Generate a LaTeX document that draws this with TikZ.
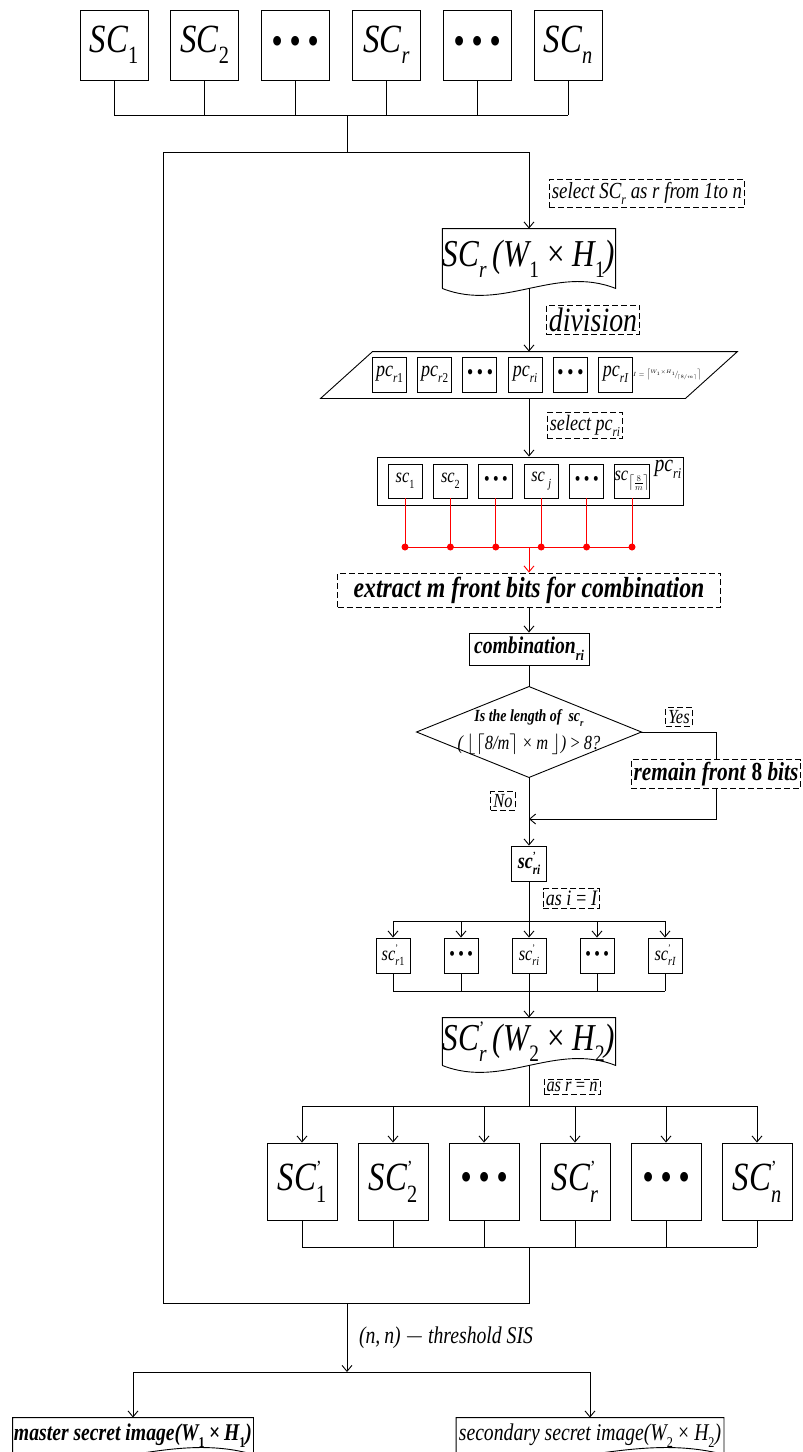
\documentclass[tikz,border=0pt]{standalone}
\usepackage{amsmath}
\usepackage{fontspec}
\setmainfont{Liberation Serif}[FakeStretch=0.82]
\usetikzlibrary{arrows.meta,calc}
\newcommand\fsz[1]{\fontsize{#1}{#1}\selectfont}
\newcommand\sbs[1]{\raisebox{-.28em}{\scalebox{.62}{#1}}}
\newcommand\sbu[1]{\sbs{\upshape #1}}
\newcommand\sbp[1]{\rlap{\raisebox{.42em}{\scalebox{.5}{\upshape '}}}\sbs{#1}}
\newcommand\tdots{\textbullet\,\textbullet\,\textbullet}
\newcommand\docframe[1]{\draw (#1.south west) -- (#1.north west) -- (#1.north east) -- (#1.south east)
  .. controls ($(#1.south east)!.35!(#1.south west)+(0,-24)$) and ($(#1.south east)!.65!(#1.south west)+(0,24)$) .. (#1.south west);}
\tikzset{
  cell/.style={draw,fill=white,inner sep=0pt},
  tag/.style={draw,fill=white,dash pattern=on 6pt off 3pt,inner sep=2.5pt},
  arr/.style={-{Straight Barb[length=6pt,width=10pt]}},
  docbox/.style={inner sep=0pt},
}

\begin{document}
\begin{tikzpicture}[x=1pt,y=-1pt,line width=.9pt]
    \useasboundingbox (0,0) rectangle (803,1452);
    \clip (0,0) rectangle (803,1452);
    \foreach \lbl [count=\i] in {SC\sbu{1},SC\sbu{2},\tdots,SC\sbs{r},\tdots,SC\sbs{n}}
      \node[cell,minimum width=68,minimum height=70,font=\fsz{40}\itshape] (t\i) at ({114+90.8*(\i-1)},45) {\lbl};
    \node[tag,font=\fsz{23}\itshape] (selsc) at (647,193.5) {select SC\sbs{r} as r from 1to n};
    \node[docbox,minimum width=165,minimum height=59,font=\fsz{38}\itshape] (docA) at (529,258.5) {SC\sbs{r}\,(W\sbu{1}\,×\,H\sbu{1})};
    \docframe{docA}
    \node[tag,font=\fsz{34}\itshape] (divl) at (593,319.5) {division};
    \node[minimum width=364,minimum height=46,inner sep=0pt] (par) at (529,375) {};
    \draw ([xshift=26]par.north west) -- ([xshift=26]par.north east) -- ([xshift=-26]par.south east) -- ([xshift=-26]par.south west) -- cycle;
    \foreach \lbl [count=\i] in {pc\sbs{r\upshape 1},pc\sbs{r\upshape 2},\tdots,pc\sbs{ri},\tdots,pc\sbs{rI}}
      \node[cell,minimum width=34,minimum height=35,font=\fsz{22}\itshape] (p\i) at ({389.5+45.2*(\i-1)},374.5) {\lbl};
    \node[font=\fsz{6}] (fml) at (667,375) {$I=\left\lceil{}^{W_1\times H_1}\!\big/\!{}_{\lceil 8/m\rceil}\right\rceil$};
    \node[tag,font=\fsz{22}\itshape] (selpc) at (585,425.5) {select pc\sbs{ri}};
    \node[cell,minimum width=306,minimum height=48] (pcbox) at (530,481) {};
    \foreach \lbl [count=\i] in {sc\sbu{1},sc\sbu{2},\tdots,sc\,\sbs{j},\tdots,sc\sbs{$\left\lceil\frac{8}{m}\right\rceil$}}
      \node[cell,minimum width=34,minimum height=34,font=\fsz{20}\itshape] (s\i) at ({405+45.4*(\i-1)},481) {\lbl};
    \node[font=\fsz{24}\itshape] (pcl) at (668,469) {pc\sbs{ri}};
    \node[tag,minimum width=383,minimum height=34,font=\fsz{29}\bfseries\itshape] (extr) at (529,590) {extract m front bits for combination};
    \node[cell,minimum width=120,minimum height=32,font=\fsz{24}\bfseries\itshape] (comb) at (529,649) {combination\sbs{ri}};
    \node[minimum width=224,minimum height=90,inner sep=0pt,align=center] (cond) at (529,732)
      {{\fsz{17}\bfseries\itshape Is the length of \ sc\sbs{r}}\\[6pt]{\fsz{20}\itshape (\,$\lfloor\lceil$8/m$\rceil$\,×\,m\,$\rfloor$)\,>\,8?}};
    \draw (cond.north) -- (cond.east) -- (cond.south) -- (cond.west) -- cycle;
    \node[tag,font=\fsz{20}\itshape] (yes) at (679,717) {Yes};
    \node[tag,font=\fsz{20}\itshape] (no) at (503,801) {No};
    \node[tag,font=\fsz{26}\bfseries\itshape] (remain) at (716,774) {remain front \textup{8} bits};
    \node[cell,minimum width=35,minimum height=35,font=\fsz{22}\bfseries\itshape] (scp) at (529,863.5) {sc\sbp{ri}};
    \node[tag,font=\fsz{22}\itshape] (asi) at (571.5,898.5) {as i\,=\,I};
    \foreach \lbl [count=\i] in {sc\sbp{r\upshape 1},\tdots,sc\sbp{ri},\tdots,sc\sbp{rI}}
      \node[cell,minimum width=34,minimum height=35,font=\fsz{20}\itshape] (m\i) at ({393+68*(\i-1)},955.5) {\lbl};
    \node[docbox,minimum width=166,minimum height=47,font=\fsz{38}\itshape] (docB) at (529,1041.5) {SC\sbp{r}\,(W\sbu{2}\,×\,H\sbu{2})};
    \docframe{docB}
    \node[tag,font=\fsz{20}\itshape] (asr) at (572,1087) {as r\,=\,n};
    \foreach \lbl [count=\i] in {SC\sbp{\upshape 1},SC\sbp{\upshape 2},\tdots,SC\sbp{r},\tdots,SC\sbp{n}}
      \node[cell,minimum width=70,minimum height=77,font=\fsz{40}\itshape] (b\i) at ({302+91*(\i-1)},1181.5) {\lbl};
    \node[font=\fsz{24}\itshape] (sisl) at (446,1338) {(n,\,n)\,$-$\,threshold SIS};
    \node[docbox,minimum width=240,minimum height=36,font=\fsz{24}\bfseries\itshape] (mdoc) at (133,1436) {master secret image(W\sbu{1}\,×\,H\sbu{1})};
    \docframe{mdoc}
    \node[docbox,minimum width=267,minimum height=36,font=\fsz{24}\itshape] (sdoc) at (590,1436) {secondary secret image(W\sbu{2}\,×\,H\sbu{2})};
    \docframe{sdoc}

    \coordinate (topbus) at (347,115);
    \coordinate (lpnw) at (163,152);
    \coordinate (lpne) at (529,152);
    \coordinate (lpsw) at (163,1303);
    \coordinate (lpse) at (529,1303);
    \coordinate (redbus) at (529,547);
    \coordinate (nojoin) at (529,819);
    \coordinate (midbus) at (529,921);
    \coordinate (midbus2) at (529,991);
    \coordinate (botbus) at (529,1106);
    \coordinate (botbus2) at (529,1247);
    \coordinate (sisbus) at (347,1372);

    \foreach \i in {1,...,6} \draw (t\i.south) -- (t\i.south |- topbus);
    \draw (t1.south |- topbus) -- (t6.south |- topbus);
    \draw (topbus) -- (topbus |- lpnw);
    \draw (botbus2) -- (lpse) -- (lpsw) -- (lpnw) -- (lpne);
    \draw[arr] (lpne) -- (docA.north);
    \draw[arr] (docA.south) -- (par.north);
    \draw[arr] (par.south) -- (pcbox.north -| par.south);
    \foreach \i in {1,...,6} {
      \draw[red] (s\i.south) -- (s\i.south |- redbus);
      \fill[red] (s\i.south |- redbus) circle (3.5);
    }
    \draw[red] (s1.south |- redbus) -- (s6.south |- redbus);
    \draw[red,arr] (redbus) -- (extr.north);
    \draw[arr] (extr.south) -- (comb.north);
    \draw (comb.south) -- (cond.north);
    \draw (cond.east) -| (remain.north);
    \draw[arr] (remain.south) |- (nojoin);
    \draw[arr] (cond.south) -- (scp.north);
    \draw (scp.south) -- (midbus);
    \draw (m1.north |- midbus) -- (m5.north |- midbus);
    \foreach \i in {1,...,5} {
      \draw[arr] (m\i.north |- midbus) -- (m\i.north);
      \draw (m\i.south) -- (m\i.south |- midbus2);
    }
    \draw (m1.south |- midbus2) -- (m5.south |- midbus2);
    \draw[arr] (midbus2) -- (docB.north);
    \draw (docB.south) -- (botbus);
    \draw (b1.north |- botbus) -- (b6.north |- botbus);
    \foreach \i in {1,...,6} {
      \draw[arr] (b\i.north |- botbus) -- (b\i.north);
      \draw (b\i.south) -- (b\i.south |- botbus2);
    }
    \draw (b1.south |- botbus2) -- (b6.south |- botbus2);
    \draw[arr] (topbus |- lpsw) -- (sisbus);
    \draw (sisbus -| mdoc.north) -- (sisbus -| sdoc.north);
    \draw[arr] (sisbus -| mdoc.north) -- (mdoc.north);
    \draw[arr] (sisbus -| sdoc.north) -- (sdoc.north);
\end{tikzpicture}
\end{document}
